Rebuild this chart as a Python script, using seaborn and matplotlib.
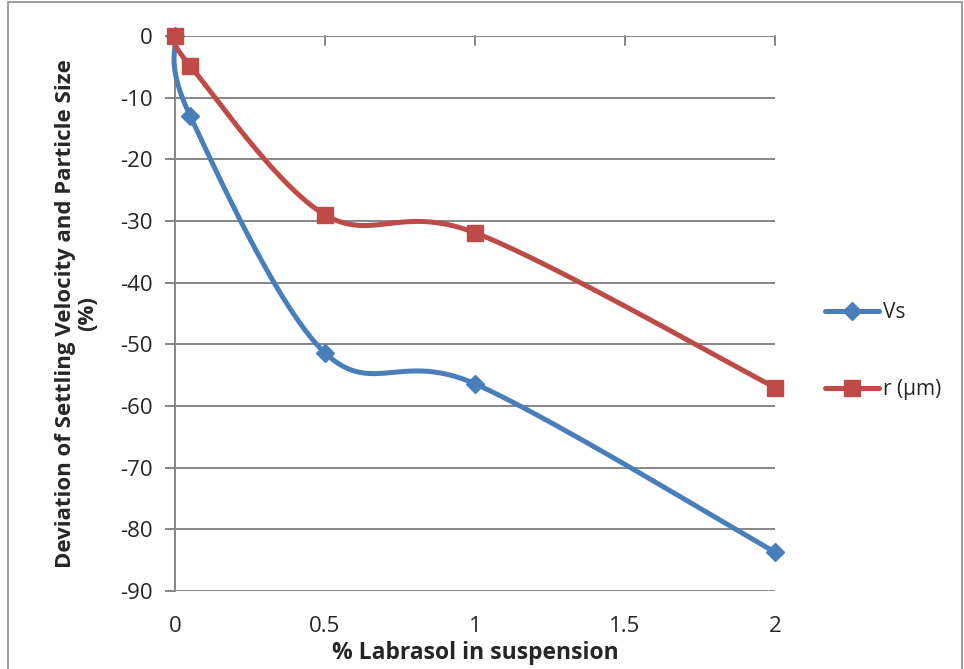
import numpy as np
import pandas as pd
import matplotlib
matplotlib.use("Agg")
import matplotlib.pyplot as plt
from matplotlib.lines import Line2D
from matplotlib.patches import Rectangle
import seaborn as sns

# Data
labrasol = [0, 0.05, 0.5, 1, 2]
vs = [0, -12.9, -51.4, -56.4, -83.7]
radius = [0, -4.8, -29.0, -31.9, -57.0]
x_ticks = [0, 0.5, 1, 1.5, 2]
y_ticks = [0, -10, -20, -30, -40, -50, -60, -70, -80, -90]

BLUE = "#4A7EBB"
RED = "#BE4B48"
GRID = "#868686"

sns.set_theme(style="white")
plt.rcParams["font.family"] = ["Open Sans", "DejaVu Sans"]


def smooth(xs, ys, sx=300.0, sy=6.17, n=60):
    """Cardinal (Catmull-Rom) Bezier smoothing in display-proportional space."""
    p = np.column_stack([np.asarray(xs, float) * sx, np.asarray(ys, float) * sy])
    out = []
    t = np.linspace(0, 1, n)[:, None]
    for i in range(len(p) - 1):
        p0 = p[i - 1] if i > 0 else p[i]
        p1, p2 = p[i], p[i + 1]
        p3 = p[i + 2] if i + 2 < len(p) else p[i + 1]
        c1 = p1 + (p2 - p0) / 6.0
        c2 = p2 - (p3 - p1) / 6.0
        seg = ((1 - t) ** 3) * p1 + 3 * ((1 - t) ** 2) * t * c1 + 3 * (1 - t) * t ** 2 * c2 + t ** 3 * p2
        out.append(seg if i == 0 else seg[1:])
    c = np.vstack(out)
    return c[:, 0] / sx, c[:, 1] / sy


fig = plt.figure(figsize=(9.64, 6.69), dpi=100)
fig.patches.append(Rectangle((0.008, -0.05), 0.99, 1.047, transform=fig.transFigure,
                             fill=False, edgecolor="#8C8C8C", linewidth=1.2))
ax = fig.add_axes([175 / 964, 78 / 669, 600 / 964, 555 / 669])

series = [("Vs", vs, BLUE, "D", 9), ("r (µm)", radius, RED, "s", 11)]
for name, vals, col, mk, ms in series:
    cx, cy = smooth(labrasol, vals)
    curve = pd.DataFrame({"x": cx, "y": cy})
    sns.lineplot(data=curve, x="x", y="y", sort=False, ax=ax, color=col,
                 linewidth=3.6, clip_on=False, zorder=3)
    ax.plot(labrasol, vals, linestyle="none", marker=mk, markersize=ms,
            color=col, markeredgecolor=col, clip_on=False, zorder=4)

ax.set_xlim(0, 2)
ax.set_ylim(-90, 0)
ax.set_yticks(y_ticks)
ax.set_xticks(x_ticks)
ax.set_yticklabels([str(v) for v in y_ticks], fontsize=16)
ax.set_xticklabels(["0", "0.5", "1", "1.5", "2"], fontsize=16)

for yv in y_ticks:
    ax.axhline(yv, color=GRID, linewidth=1.4, zorder=1)

for s in ["right", "bottom", "top"]:
    ax.spines[s].set_visible(False)
ax.spines["left"].set_color(GRID)
ax.spines["left"].set_linewidth(1.4)

ax.tick_params(axis="y", direction="out", length=7, width=1.4, color=GRID, pad=9, left=True)
ax.tick_params(axis="x", bottom=False, top=False, pad=12)
# tick marks on the horizontal axis, which crosses at y = 0
for xv in x_ticks[1:]:
    ax.plot([xv, xv], [0, -1.4], color=GRID, linewidth=1.4, zorder=1, clip_on=False)

ax.set_xlabel("% Labrasol in suspension", fontsize=16.5, fontweight="bold", labelpad=3)
ax.set_ylabel("Deviation of Settling Velocity and Particle Size\n(%)", fontsize=16,
              fontweight="bold", labelpad=16, linespacing=1.05)

handles = [Line2D([], [], color=BLUE, marker="D", markersize=9, linewidth=3.6),
           Line2D([], [], color=RED, marker="s", markersize=11, linewidth=3.6)]
fig.legend(handles, ["Vs", "r (µm)"], loc="center left",
           bbox_to_anchor=(806 / 964, 1 - 351 / 669), frameon=False, fontsize=15,
           handlelength=2.6, labelspacing=2.7, handletextpad=0.2)

fig.savefig("out.png", dpi=100)
